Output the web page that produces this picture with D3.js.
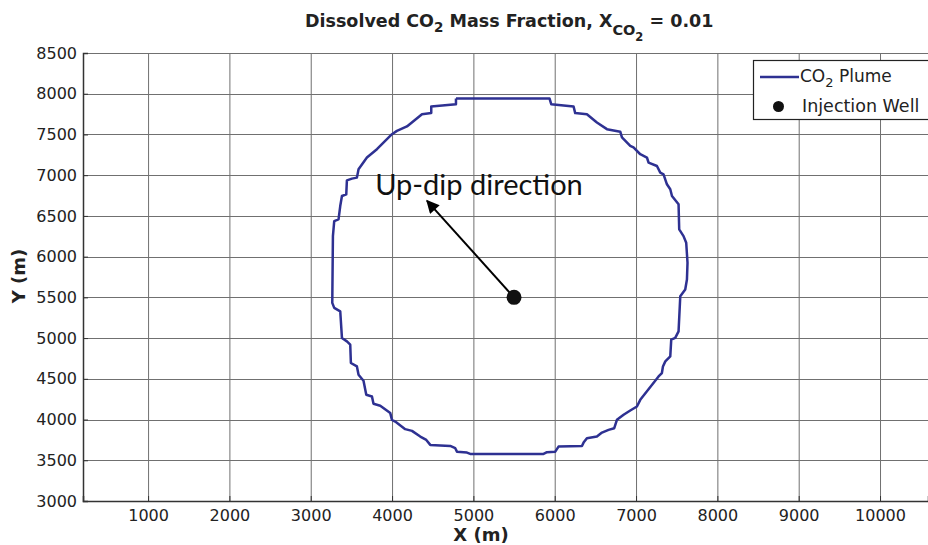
<!DOCTYPE html>
<html>
<head>
<meta charset="utf-8">
<script src="https://cdn.jsdelivr.net/npm/d3@7"></script>
<style>
  body { margin: 0; background: #fff; }
  svg { display: block; font-family: "DejaVu Sans", Verdana, sans-serif; }
</style>
</head>
<body>
<div id="chart"></div>
<script>
// Tick values
var xTicks = [1000, 2000, 3000, 4000, 5000, 6000, 7000, 8000, 9000, 10000];
var yTicks = [3000, 3500, 4000, 4500, 5000, 5500, 6000, 6500, 7000, 7500, 8000, 8500];

// CO2 plume outline (X_CO2 = 0.01 contour), clockwise from top-left
var plumeX = [4786, 5937, 5957, 6232, 6252, 6396, 6519, 6642, 6806, 6827,
  6929, 6969, 7052, 7134, 7154, 7257, 7298, 7338, 7380, 7421,
  7442, 7523, 7531, 7584, 7617, 7633, 7626, 7605, 7544, 7523,
  7482, 7433, 7421, 7360, 7331, 7318, 7277, 7052, 7011, 6929,
  6847, 6765, 6732, 6662, 6581, 6519, 6396, 6355, 6335, 6047,
  6007, 5905, 5863, 4961, 4921, 4798, 4777, 4716, 4470, 4421,
  4347, 4245, 4162, 4039, 3999, 3978, 3855, 3772, 3753, 3683,
  3649, 3588, 3568, 3494, 3486, 3445, 3384, 3363, 3289, 3265,
  3273, 3289, 3342, 3363, 3384, 3437, 3445, 3507, 3568, 3588,
  3691, 3814, 3999, 4060, 4183, 4368, 4482, 4482, 4786, 4786];
var plumeY = [7940, 7940, 7872, 7844, 7762, 7749, 7647, 7565, 7534, 7463,
  7360, 7340, 7257, 7217, 7155, 7113, 7032, 7011, 6888, 6827,
  6744, 6642, 6334, 6252, 6171, 5925, 5719, 5596, 5513, 5083,
  5002, 4981, 4775, 4714, 4652, 4571, 4529, 4242, 4160, 4111,
  4058, 3996, 3894, 3873, 3840, 3791, 3771, 3717, 3676, 3668,
  3606, 3599, 3578, 3578, 3594, 3606, 3648, 3676, 3689, 3750,
  3791, 3861, 3882, 3975, 3996, 4079, 4169, 4193, 4283, 4304,
  4476, 4550, 4652, 4694, 4919, 4960, 5002, 5329, 5371, 5432,
  6252, 6436, 6457, 6621, 6744, 6765, 6937, 6958, 6970, 7073,
  7217, 7319, 7503, 7544, 7598, 7749, 7762, 7844, 7872, 7940];

// Injection well and up-dip arrow tip
var well = [5500, 5500];
var arrowTip = [4430, 6685];

var plumeColor = "#2e3192";

var width = 928,
  height = 545;
var plot = { left: 83, right: 928, top: 53, bottom: 501 };

var svg = d3
  .select("#chart")
  .append("svg")
  .attr("width", width)
  .attr("height", height);

var x = d3.scaleLinear().domain([200, 10590]).range([plot.left, plot.right]);
var y = d3.scaleLinear().domain([3000, 8500]).range([plot.bottom, plot.top]);

// Grid
svg
  .append("g")
  .selectAll("line")
  .data(xTicks)
  .enter()
  .append("line")
  .attr("x1", (d) => x(d) + 0.5)
  .attr("x2", (d) => x(d) + 0.5)
  .attr("y1", plot.top)
  .attr("y2", plot.bottom)
  .attr("stroke", "#707070")
  .attr("stroke-width", 1);

svg
  .append("g")
  .selectAll("line")
  .data(yTicks)
  .enter()
  .append("line")
  .attr("x1", plot.left)
  .attr("x2", plot.right)
  .attr("y1", (d) => Math.round(y(d)) + 0.5)
  .attr("y2", (d) => Math.round(y(d)) + 0.5)
  .attr("stroke", "#707070")
  .attr("stroke-width", 1);

// Axes
var xAxis = svg
  .append("g")
  .attr("transform", "translate(0," + plot.bottom + ")")
  .call(
    d3.axisBottom(x).tickValues(xTicks).tickFormat(d3.format("d")).tickSize(-5).tickPadding(9)
  );
xAxis.select(".domain").attr("stroke", "#333").attr("stroke-width", 1.5);
xAxis.selectAll(".tick line").attr("stroke", "#333");
xAxis
  .selectAll("text")
  .attr("fill", "#222")
  .style("font-size", "16px")
  .style("font-family", "'DejaVu Sans', Verdana, sans-serif");

var yAxis = svg
  .append("g")
  .attr("transform", "translate(" + plot.left + ",0)")
  .call(
    d3.axisLeft(y).tickValues(yTicks).tickFormat(d3.format("d")).tickSize(-5).tickPadding(6)
  );
yAxis.select(".domain").attr("stroke", "#333").attr("stroke-width", 1.5);
yAxis.selectAll(".tick line").attr("stroke", "#333");
yAxis
  .selectAll("text")
  .attr("fill", "#222")
  .style("font-size", "16px")
  .style("font-family", "'DejaVu Sans', Verdana, sans-serif");

// Plume outline
var plumeLine = d3
  .line()
  .x((d, i) => x(plumeX[i]))
  .y((d, i) => y(plumeY[i]));

svg
  .append("path")
  .attr("d", plumeLine(plumeX))
  .attr("fill", "none")
  .attr("stroke", plumeColor)
  .attr("stroke-width", 2.5)
  .attr("stroke-linejoin", "round");

// Up-dip arrow
svg
  .append("defs")
  .append("marker")
  .attr("id", "arrowhead")
  .attr("viewBox", "0 0 10 10")
  .attr("refX", 9)
  .attr("refY", 5)
  .attr("markerUnits", "userSpaceOnUse")
  .attr("markerWidth", 16)
  .attr("markerHeight", 13)
  .attr("orient", "auto")
  .append("path")
  .attr("d", "M0,0 L10,5 L0,10 Z")
  .attr("fill", "#000");

svg
  .append("line")
  .attr("x1", x(well[0]))
  .attr("y1", y(well[1]))
  .attr("x2", x(arrowTip[0]))
  .attr("y2", y(arrowTip[1]))
  .attr("stroke", "#000")
  .attr("stroke-width", 2)
  .attr("marker-end", "url(#arrowhead)");

svg
  .append("circle")
  .attr("cx", x(well[0]))
  .attr("cy", y(well[1]))
  .attr("r", 7.5)
  .attr("fill", "#111");

svg
  .append("text")
  .attr("x", 479)
  .attr("y", 195)
  .attr("text-anchor", "middle")
  .style("font-family", "Lato, 'Open Sans', sans-serif")
  .style("font-size", "29px")
  .attr("fill", "#111")
  .text("Up-dip direction");

// Legend
var legend = svg.append("g");
legend
  .append("rect")
  .attr("x", 753.5)
  .attr("y", 60.5)
  .attr("width", 200)
  .attr("height", 59)
  .attr("fill", "#fff")
  .attr("stroke", "#222")
  .attr("stroke-width", 1.2);
legend
  .append("line")
  .attr("x1", 760)
  .attr("x2", 799)
  .attr("y1", 77)
  .attr("y2", 77)
  .attr("stroke", plumeColor)
  .attr("stroke-width", 2.5);
var lt = legend
  .append("text")
  .attr("x", 800)
  .attr("y", 82)
  .attr("fill", "#222")
  .style("font-size", "17px");
lt.append("tspan").text("CO");
lt.append("tspan").attr("dy", 5).style("font-size", "13px").text("2");
lt.append("tspan").attr("dy", -5).text(" Plume");
legend
  .append("circle")
  .attr("cx", 778.5)
  .attr("cy", 106.5)
  .attr("r", 5.5)
  .attr("fill", "#111");
legend
  .append("text")
  .attr("x", 802)
  .attr("y", 112)
  .attr("fill", "#222")
  .style("font-size", "17.5px")
  .text("Injection Well");

// Title
var title = svg
  .append("text")
  .attr("x", 305)
  .attr("y", 27)
  .attr("fill", "#222")
  .style("font-weight", "bold")
  .style("font-size", "17.5px");
title.append("tspan").text("Dissolved CO");
title.append("tspan").attr("dy", 5).style("font-size", "13.5px").text("2");
title.append("tspan").attr("dy", -5).text(" Mass Fraction, X");
title.append("tspan").attr("dy", 8).style("font-size", "14.5px").text("CO");
title.append("tspan").attr("dy", 6).style("font-size", "11.5px").text("2");
title.append("tspan").attr("dy", -14).text(" = 0.01");

// Axis titles
svg
  .append("text")
  .attr("x", 481)
  .attr("y", 541)
  .attr("text-anchor", "middle")
  .attr("fill", "#222")
  .style("font-weight", "bold")
  .style("font-size", "18px")
  .text("X (m)");

svg
  .append("text")
  .attr("transform", "translate(25,276) rotate(-90)")
  .attr("text-anchor", "middle")
  .attr("fill", "#222")
  .style("font-weight", "bold")
  .style("font-size", "18px")
  .text("Y (m)");
</script>
</body>
</html>
